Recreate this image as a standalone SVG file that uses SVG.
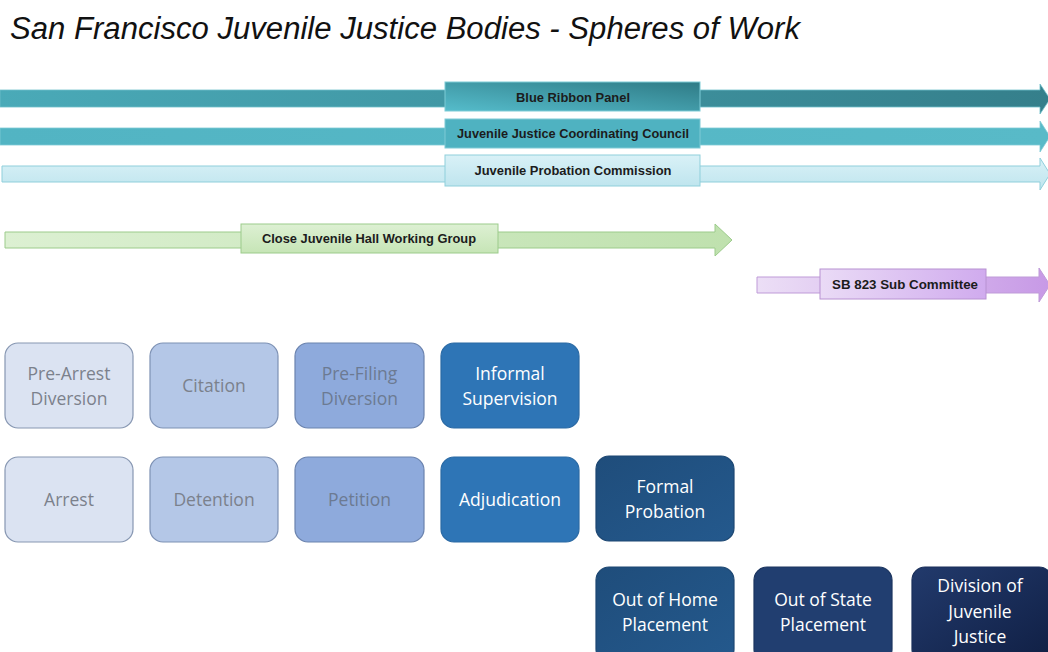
<svg xmlns="http://www.w3.org/2000/svg" width="1048" height="652" viewBox="0 0 1048 652">
<defs>
<linearGradient id="g1" x1="0" y1="0" x2="1" y2="0"><stop offset="0" stop-color="#4aaab8"/><stop offset="1" stop-color="#357f8b"/></linearGradient>
<linearGradient id="g1b" x1="0" y1="1" x2="1" y2="0"><stop offset="0" stop-color="#55bccb"/><stop offset="1" stop-color="#2f7b86"/></linearGradient>
<linearGradient id="g2" x1="0" y1="0" x2="1" y2="0"><stop offset="0" stop-color="#52b4c3"/><stop offset="1" stop-color="#58bac8"/></linearGradient>
<linearGradient id="g3" x1="0" y1="0" x2="0" y2="1"><stop offset="0" stop-color="#d9f1f7"/><stop offset="1" stop-color="#bfe5ee"/></linearGradient>
<linearGradient id="g4" x1="0" y1="0" x2="1" y2="0"><stop offset="0" stop-color="#dcf0d2"/><stop offset="1" stop-color="#bfe1ae"/></linearGradient>
<linearGradient id="g4b" x1="0" y1="0" x2="0" y2="1"><stop offset="0" stop-color="#ddf0d3"/><stop offset="1" stop-color="#c6e5b6"/></linearGradient>
<linearGradient id="g5" x1="0" y1="0" x2="1" y2="0"><stop offset="0" stop-color="#ecdff6"/><stop offset="1" stop-color="#c799e6"/></linearGradient>
<linearGradient id="g5b" x1="0" y1="0" x2="1" y2="0"><stop offset="0" stop-color="#eadbf6"/><stop offset="1" stop-color="#d0abee"/></linearGradient>
<linearGradient id="gdj" x1="0" y1="0" x2="1" y2="1"><stop offset="0" stop-color="#223a6c"/><stop offset="1" stop-color="#101f44"/></linearGradient>
<linearGradient id="gfp" x1="0" y1="0" x2="1" y2="1"><stop offset="0" stop-color="#1f4d7b"/><stop offset="1" stop-color="#24598d"/></linearGradient>
</defs>
<style>
.title{font-family:"Liberation Sans",Arial,sans-serif;font-style:italic;font-size:31px;fill:#111}
.lbl{font-family:"Liberation Sans",Arial,sans-serif;font-weight:bold;font-size:13px;fill:#1c1c1c;text-anchor:middle}
.bt{font-family:"Open Sans","Liberation Sans",sans-serif;font-size:17.5px;text-anchor:middle}
.dark{fill:#7b818c}
.light{fill:#ffffff}
</style>
<text class="title" x="10" y="39" textLength="790" lengthAdjust="spacingAndGlyphs">San Francisco Juvenile Justice Bodies - Spheres of Work</text>

<g id="connectors">
<g id="band-blue-ribbon">
<path d="M0,90 H1040 V84 L1050,99 L1040,114 V107 H0 Z" fill="url(#g1)" stroke="#6fbfca" stroke-width="0.8"/>
<rect x="445" y="82" width="255" height="29" fill="url(#g1b)" stroke="#7ccbd6" stroke-width="1"/>
<text class="lbl" x="573" y="102" textLength="114" lengthAdjust="spacingAndGlyphs">Blue Ribbon Panel</text>
</g>
<g id="band-jjcc">
<path d="M0,128 H1040 V121 L1050,136.5 L1040,152 V145 H0 Z" fill="url(#g2)" stroke="#7fcad5" stroke-width="0.8"/>
<rect x="445" y="119" width="255" height="29" fill="#4fb2c1" stroke="#7fcad5" stroke-width="1"/>
<text class="lbl" x="573" y="138" textLength="232" lengthAdjust="spacingAndGlyphs">Juvenile Justice Coordinating Council</text>
</g>
<g id="band-jpc">
<path d="M2,166 H1040 V158 L1050,174 L1040,190 V182 H2 Z" fill="url(#g3)" stroke="#8fcfdb" stroke-width="1"/>
<rect x="445" y="155" width="255" height="31" fill="url(#g3)" stroke="#8fcfdb" stroke-width="1"/>
<text class="lbl" x="573" y="175" textLength="197" lengthAdjust="spacingAndGlyphs">Juvenile Probation Commission</text>
</g>
<g id="band-close-hall">
<path d="M5,232 H715 V224 L732,240 L715,256 V248 H5 Z" fill="url(#g4)" stroke="#9ccb8b" stroke-width="1"/>
<rect x="241" y="224" width="257" height="29" fill="url(#g4b)" stroke="#9ccb8b" stroke-width="1"/>
<text class="lbl" x="369" y="243" textLength="214" lengthAdjust="spacingAndGlyphs">Close Juvenile Hall Working Group</text>
</g>
<g id="band-sb823">
<path d="M757,277 H1039 V268 L1050,285 L1039,302 V293 H757 Z" fill="url(#g5)" stroke="#bf9bd8" stroke-width="1"/>
<rect x="820" y="269" width="166" height="30" fill="url(#g5b)" stroke="#b892d2" stroke-width="1"/>
<text class="lbl" x="905" y="288.5" textLength="146" lengthAdjust="spacingAndGlyphs">SB 823 Sub Committee</text>
</g>
</g>

<g id="pre-arrest-diversion">
<rect x="5" y="343" width="128" height="85" rx="13" fill="#dbe3f2" stroke="#8797b2" stroke-width="1.2"/>
<text class="bt dark" x="69" y="380">Pre-Arrest</text><text class="bt dark" x="69" y="405">Diversion</text>
</g>
<g id="citation">
<rect x="150" y="343" width="128" height="85" rx="13" fill="#b4c7e7" stroke="#7d91b4" stroke-width="1.2"/>
<text class="bt dark" x="214" y="392">Citation</text>
</g>
<g id="pre-filing-diversion">
<rect x="295" y="343" width="129" height="85" rx="13" fill="#8eaadc" stroke="#6b83ae" stroke-width="1.2"/>
<text class="bt" fill="#6c7a92" x="359.5" y="380">Pre-Filing</text><text class="bt" fill="#6c7a92" x="359.5" y="405">Diversion</text>
</g>
<g id="informal-supervision">
<rect x="441" y="343" width="138" height="85" rx="13" fill="#2e75b6" stroke="#2b6aa4" stroke-width="1.2"/>
<text class="bt light" x="510" y="380">Informal</text><text class="bt light" x="510" y="405">Supervision</text>
</g>
<g id="arrest">
<rect x="5" y="457" width="128" height="85" rx="13" fill="#dbe3f2" stroke="#8797b2" stroke-width="1.2"/>
<text class="bt dark" x="69" y="506">Arrest</text>
</g>
<g id="detention">
<rect x="150" y="457" width="128" height="85" rx="13" fill="#b4c7e7" stroke="#7d91b4" stroke-width="1.2"/>
<text class="bt dark" x="214" y="506">Detention</text>
</g>
<g id="petition">
<rect x="295" y="457" width="129" height="85" rx="13" fill="#8eaadc" stroke="#6b83ae" stroke-width="1.2"/>
<text class="bt" fill="#6c7a92" x="359.5" y="506">Petition</text>
</g>
<g id="adjudication">
<rect x="441" y="457" width="138" height="85" rx="13" fill="#2e75b6" stroke="#2b6aa4" stroke-width="1.2"/>
<text class="bt light" x="510" y="506">Adjudication</text>
</g>
<g id="formal-probation">
<rect x="596" y="456" width="138" height="85" rx="13" fill="url(#gfp)" stroke="#1d4772" stroke-width="1.2"/>
<text class="bt light" x="665" y="493">Formal</text><text class="bt light" x="665" y="518">Probation</text>
</g>
<g id="out-of-home-placement">
<rect x="596" y="567" width="138" height="95" rx="13" fill="url(#gfp)" stroke="#1d4772" stroke-width="1.2"/>
<text class="bt light" x="665" y="606">Out of Home</text><text class="bt light" x="665" y="631">Placement</text>
</g>
<g id="out-of-state-placement">
<rect x="754" y="567" width="138" height="95" rx="13" fill="#213e70" stroke="#1c355f" stroke-width="1.2"/>
<text class="bt light" x="823" y="606">Out of State</text><text class="bt light" x="823" y="631">Placement</text>
</g>
<g id="division-of-juvenile-justice">
<rect x="912" y="567" width="140" height="95" rx="13" fill="url(#gdj)" stroke="#1a2f5a" stroke-width="1.2"/>
<text class="bt light" x="980" y="592">Division of</text><text class="bt light" x="980" y="618">Juvenile</text><text class="bt light" x="980" y="643">Justice</text>
</g>
</svg>
